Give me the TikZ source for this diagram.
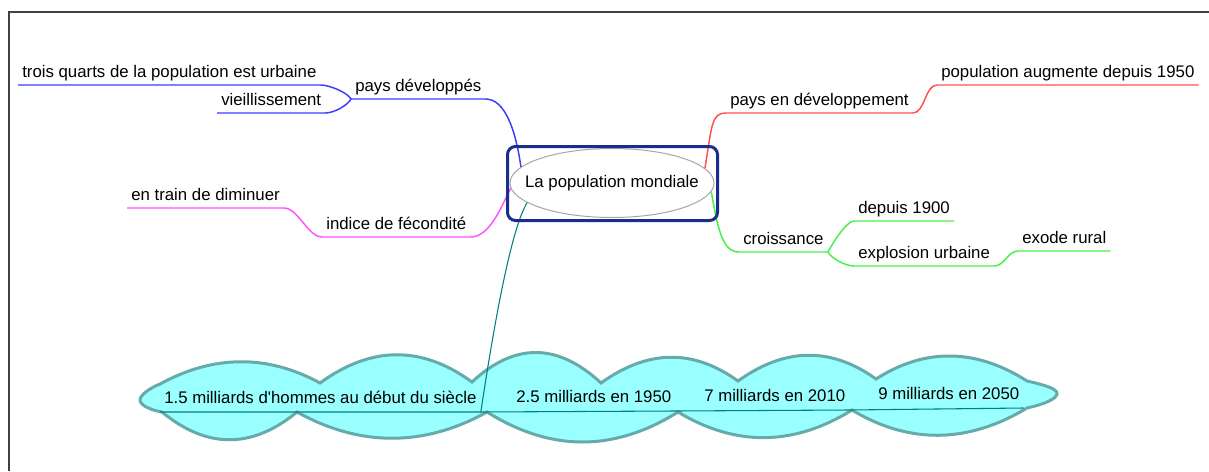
\documentclass[tikz,border=0pt]{standalone}
\usepackage{fontspec}
\setmainfont{Liberation Sans}[Ligatures=TeXOff]
\usetikzlibrary{shapes.geometric}

\definecolor{devblue}{RGB}{60,60,255}
\definecolor{fecpink}{RGB}{255,80,255}
\definecolor{dvpred}{RGB}{255,80,80}
\definecolor{crogreen}{RGB}{70,240,70}
\definecolor{timeteal}{RGB}{0,128,128}
\definecolor{cloudfill}{RGB}{153,255,255}
\definecolor{cloudline}{RGB}{102,170,170}
\definecolor{hubblue}{RGB}{25,45,140}

\begin{document}
\begin{tikzpicture}[
  x=0.75pt, y=-0.75pt,
  font=\fontsize{12.6pt}{15pt}\selectfont,
  root/.style={draw=gray!70, ellipse, fill=white, line width=0.75pt,
               minimum width=153pt, minimum height=51.75pt, inner sep=0pt},
  hub/.style={draw=hubblue, line width=2.25pt, rounded corners=6pt,
              minimum width=157.5pt, minimum height=55.5pt, inner sep=0pt},
  topic/.style={anchor=south west, inner xsep=3pt, inner ysep=0pt,
                text height=9.5pt, text depth=5.25pt},
  event/.style={topic, text depth=6pt},
  link/.style={line width=1.1pt},
  cloud/.style={fill=cloudfill, draw=cloudline, line width=2.25pt},
]
  \useasboundingbox (0,0) rectangle (1209,471);
  \draw[black!75, line width=1.5pt] (9,471) -- (9,12) -- (1209,12);

  %% Central topic
  \node[root, label=center:La population mondiale] (root) at (612,183) {};

  %% Timeline cloud
  \filldraw[cloud] (160,384)
    .. controls (213,355) and (267,354) .. (320,383)
    .. controls (371,346) and (421,345) .. (472,382)
    .. controls (515,342) and (558,343) .. (601,383)
    .. controls (647,350) and (692,348) .. (738,381)
    .. controls (784,348) and (830,346) .. (876,379)
    .. controls (926,347) and (977,349) .. (1027,381)
    .. controls (1045,385) and (1058,389) .. (1057,394)
    .. controls (1056,399) and (1045,404) .. (1027,408)
    .. controls (969,443) and (910,445) .. (852,410)
    .. controls (794,446) and (736,447) .. (678,412)
    .. controls (614,452) and (551,452) .. (487,412)
    .. controls (424,447) and (360,447) .. (297,412)
    .. controls (252,449) and (207,449) .. (162,412)
    .. controls (150,410) and (140,405) .. (140,400)
    .. controls (140,395) and (150,388) .. cycle;

  %% Left topics
  \node[topic] (dev) at (351,99)  {pays développés};
  \node[topic] (urb) at (18,85)   {trois quarts de la population est urbaine};
  \node[topic] (vie) at (217,113) {vieillissement};
  \node[topic] (fec) at (322,237) {indice de fécondité};
  \node[topic] (dim) at (127,208) {en train de diminuer};

  %% Right topics
  \node[topic] (dvp) at (726,113)  {pays en développement};
  \node[topic] (pop) at (937,85)   {population augmente depuis 1950};
  \node[topic] (cro) at (739,252)  {croissance};
  \node[topic] (d19) at (854,221)  {depuis 1900};
  \node[topic] (exp) at (854,266)  {explosion urbaine};
  \node[topic] (exo) at (1018,251) {exode rural};

  %% Timeline topics
  \node[event] (m1) at (160,412) {1.5 milliards d'hommes au début du siècle};
  \node[event] (m2) at (512,411) {2.5 milliards en 1950};
  \node[event] (m3) at (700,410) {7 milliards en 2010};
  \node[event] (m4) at (874,408) {9 milliards en 2050};

  %% Links -- blue
  \draw[link, devblue] (root.170) .. controls +(-5,-35) and +(20,0) .. (dev.south east) -- (dev.south west);
  \draw[link, devblue] (dev.south west) .. controls +(-4,-7) and +(8,0) .. (urb.south east) -- (urb.south west);
  \draw[link, devblue] (dev.south west) .. controls +(-4,7) and +(8,0) .. (vie.south east) -- (vie.south west);

  %% Links -- pink
  \draw[link, fecpink] (root.183) .. controls +(-8,15) and +(20,0) .. (fec.south east) -- (fec.south west);
  \draw[link, fecpink] (fec.south west) .. controls +(-14,0) and +(14,0) .. (dim.south east) -- (dim.south west);

  %% Links -- red
  \draw[link, dvpred] (root.9) .. controls +(7,-45) and +(-14,0) .. (dvp.south west) -- (dvp.south east);
  \draw[link, dvpred] (dvp.south east) .. controls +(12,0) and +(-12,0) .. (pop.south west) -- (pop.south east);

  %% Links -- green
  \draw[link, crogreen] (root.355) .. controls +(7,40) and +(-16,0) .. (cro.south west) -- (cro.south east);
  \draw[link, crogreen] (cro.south east) .. controls +(4,-7) and +(-8,0) .. (d19.south west) -- (d19.south east);
  \draw[link, crogreen] (cro.south east) .. controls +(4,7) and +(-8,0) .. (exp.south west) -- (exp.south east);
  \draw[link, crogreen] (exp.south east) .. controls +(10,0) and +(-10,0) .. (exo.south west) -- (exo.south east);

  %% Links -- timeline
  \draw[timeteal, line width=0.8pt] (root.193) .. controls +(-15,25) and +(15,-100) .. (m1.south east) -- (m1.south west);
  \draw[timeteal, line width=0.8pt] (m1.south east) -- (m2.south east) -- (m3.south east) -- (m4.south east);

  %% Frame round the central topic
  \node[hub] (box) at (612.5,183.5) {};
\end{tikzpicture}
\end{document}
